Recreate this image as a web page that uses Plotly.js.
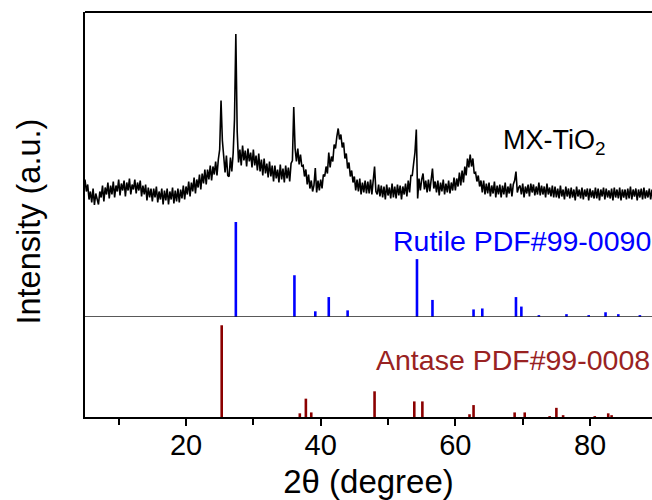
<!DOCTYPE html>
<html>
<head>
<meta charset="utf-8">
<script src="https://cdn.plot.ly/plotly-3.0.1.min.js"></script>
<style>html,body{margin:0;padding:0;background:#fff;}#chart{width:652px;height:500px;}</style>
</head>
<body>
<div id="chart"></div>
<script>
// ---- MX-TiO2 XRD scan (2θ grid start/step, intensities in a.u.) ----
const scanStart = 5.0;
const scanStep = 0.2;
const mxTiO2Intensity = [
  350, 230, 300, 150, 230, 120, 260, 95, 210, 140,    // 5.0 - 6.8
  100, 230, 170, 290, 130, 270, 200, 320, 160, 290,   // 7.0 - 8.8
  200, 330, 170, 290, 230, 350, 190, 310, 240, 340,   // 9.0 - 10.8
  180, 320, 240, 360, 200, 300, 250, 350, 210, 320,   // 11.0 - 12.8
  240, 340, 180, 290, 200, 300, 140, 270, 170, 260,   // 13.0 - 14.8
  130, 260, 170, 280, 120, 230, 150, 260, 100, 240,   // 15.0 - 16.8
  140, 260, 100, 230, 150, 270, 110, 240, 130, 260,   // 17.0 - 18.8
  120, 250, 160, 290, 150, 280, 200, 330, 180, 320,   // 19.0 - 20.8
  230, 370, 210, 350, 270, 400, 250, 410, 310, 450,   // 21.0 - 22.8
  300, 450, 350, 490, 340, 480, 400, 530, 390, 550,   // 23.0 - 24.8
  650, 1140, 740, 580, 420, 590, 390, 380, 570, 430,  // 25.0 - 26.8
  610, 950, 1805, 830, 520, 650, 490, 690, 540, 640,  // 27.0 - 28.8
  480, 660, 530, 620, 470, 650, 490, 590, 440, 610,   // 29.0 - 30.8
  430, 550, 390, 560, 410, 510, 370, 530, 380, 490,   // 31.0 - 32.8
  330, 490, 360, 450, 320, 500, 350, 460, 320, 490,   // 33.0 - 34.8
  360, 470, 330, 510, 540, 1075, 660, 530, 660, 500,  // 35.0 - 36.8
  600, 480, 490, 380, 450, 300, 400, 260, 340, 230,   // 37.0 - 38.8
  290, 465, 220, 340, 240, 350, 260, 400, 380, 480,   // 39.0 - 40.8
  410, 620, 470, 580, 530, 700, 660, 780, 860, 750,   // 41.0 - 42.8
  800, 670, 720, 560, 610, 460, 520, 380, 440, 320,   // 43.0 - 44.8
  380, 240, 350, 230, 360, 200, 320, 220, 340, 210,   // 45.0 - 46.8
  330, 210, 350, 200, 340, 480, 230, 200, 300, 180,   // 47.0 - 48.8
  290, 170, 280, 150, 300, 190, 270, 160, 310, 170,   // 49.0 - 50.8
  280, 160, 300, 190, 290, 150, 280, 200, 310, 180,   // 51.0 - 52.8
  340, 220, 390, 390, 510, 620, 850, 160, 360, 240,   // 53.0 - 54.8
  350, 410, 250, 340, 220, 350, 230, 360, 460, 260,   // 55.0 - 56.8
  330, 220, 340, 190, 320, 230, 350, 200, 310, 220,   // 57.0 - 58.8
  340, 210, 320, 240, 370, 240, 360, 280, 420, 290,   // 59.0 - 60.8
  440, 320, 480, 390, 560, 470, 600, 480, 560, 410,   // 61.0 - 62.8
  420, 330, 390, 280, 340, 220, 340, 200, 310, 210,   // 63.0 - 64.8
  320, 180, 290, 210, 330, 170, 290, 200, 300, 170,   // 65.0 - 66.8
  290, 200, 320, 170, 280, 210, 310, 180, 300, 340,   // 67.0 - 68.8
  430, 220, 270, 290, 200, 310, 170, 280, 210, 300,   // 69.0 - 70.8
  180, 310, 220, 300, 190, 280, 200, 320, 190, 290,   // 71.0 - 72.8
  200, 280, 170, 310, 200, 270, 180, 290, 170, 280,   // 73.0 - 74.8
  170, 260, 160, 290, 180, 250, 150, 280, 180, 260,   // 75.0 - 76.8
  160, 270, 170, 250, 140, 280, 180, 250, 160, 270,   // 77.0 - 78.8
  150, 250, 180, 260, 140, 260, 170, 240, 160, 270,   // 79.0 - 80.8
  160, 260, 140, 250, 180, 270, 150, 260, 170, 240,   // 81.0 - 82.8
  160, 260, 140, 270, 170, 250, 160, 270, 140, 250,   // 83.0 - 84.8
  170, 250, 150, 260, 160, 280, 150, 250, 180, 260,   // 85.0 - 86.8
  140, 250, 170, 260, 150, 270, 160, 240, 170, 260,   // 87.0 - 88.8
  150, 250                                            // 89.0 - 89.2
];

// ---- Rutile reference (PDF#99-0090): 2θ positions and relative intensities ----
const rutileTheta = [27.4, 36.1, 39.2, 41.2, 44.0, 54.3, 56.6, 62.7, 64.0, 69.0, 69.8, 72.4, 76.5, 79.8, 82.3, 84.2, 87.4];
const rutileIntensity = [100, 44, 6, 21, 7, 61, 18, 8, 9, 21, 11, 2, 3, 2, 5, 3, 2];

// ---- Anatase reference (PDF#99-0008): 2θ positions and relative intensities ----
const anataseTheta = [25.3, 36.9, 37.8, 38.6, 48.0, 53.9, 55.1, 62.1, 62.7, 68.8, 70.3, 74.0, 75.0, 76.0, 80.7, 82.7, 83.2];
const anataseIntensity = [100, 4, 20, 5, 28, 17, 17, 3, 13, 5, 5, 1, 10, 2, 1, 4, 2];

// tick / label text
const xTitle = '2θ (degree)';
const yTitle = 'Intensity (a.u.)';
const sampleLabel = 'MX-TiO<sub>2</sub>';
const rutileLabel = 'Rutile PDF#99-0090';
const anataseLabel = 'Antase PDF#99-0008';

// build scan axis
const scanTheta = mxTiO2Intensity.map((_, i) => +(scanStart + i * scanStep).toFixed(2));

// stick helper: vertical segment from 0 to intensity for each reflection
function sticks(thetas, ints) {
  const x = [], y = [];
  thetas.forEach((t, i) => { x.push(t, t, null); y.push(0, ints[i], null); });
  return {x, y};
}
const rs = sticks(rutileTheta, rutileIntensity);
const as = sticks(anataseTheta, anataseIntensity);

const FONT = 'Arial, "Liberation Sans", Helvetica, sans-serif';

const traces = [
  { x: scanTheta, y: mxTiO2Intensity, type: 'scatter', mode: 'lines',
    line: {color: '#000000', width: 1.6}, xaxis: 'x', yaxis: 'y', name: 'MX-TiO2' },
  { x: rs.x, y: rs.y, type: 'scatter', mode: 'lines',
    line: {color: '#0000ff', width: 2.6}, xaxis: 'x', yaxis: 'y2', name: 'Rutile', connectgaps: false },
  { x: as.x, y: as.y, type: 'scatter', mode: 'lines',
    line: {color: '#8b0000', width: 2.6}, xaxis: 'x', yaxis: 'y3', name: 'Anatase', connectgaps: false }
];

const layout = {
  width: 652, height: 500,
  margin: {l: 85, r: 0, t: 12, b: 83, pad: 0},
  paper_bgcolor: '#ffffff', plot_bgcolor: '#ffffff',
  showlegend: false,
  font: {family: FONT, color: '#000000'},
  xaxis: {
    range: [5, 89.2], domain: [0, 1], anchor: 'y',
    showline: true, linewidth: 2, linecolor: '#000000', mirror: false,
    showgrid: false, zeroline: false,
    ticks: 'outside', ticklen: 7, tickwidth: 2, tickcolor: '#000000',
    tick0: 0, dtick: 20, ticklabelstandoff: -6,
    tickfont: {size: 29, family: FONT, color: '#000000'},
    minor: {dtick: 10, ticks: 'outside', ticklen: 6, tickwidth: 2, tickcolor: '#000000', showgrid: false},
    title: {text: xTitle, font: {size: 33, family: FONT, color: '#000000'}, standoff: 11}
  },
  yaxis: {
    domain: [0, 1], range: [-2025, 2025],
    showline: true, linewidth: 2, linecolor: '#000000',
    showgrid: false, zeroline: false, ticks: '', showticklabels: false
  },
  yaxis2: {
    domain: [0.2469, 0.5], range: [0, 108], anchor: 'x',
    showline: false, showgrid: false, zeroline: false, ticks: '', showticklabels: false
  },
  yaxis3: {
    domain: [0, 0.2469], range: [0, 109], anchor: 'x',
    showline: false, showgrid: false, zeroline: false, ticks: '', showticklabels: false
  },
  shapes: [
    {type: 'line', xref: 'paper', yref: 'paper', x0: 0, x1: 1, y0: 1, y1: 1,
     line: {color: '#000000', width: 2}},
    {type: 'line', xref: 'paper', yref: 'y2', x0: 0, x1: 1, y0: 0, y1: 0,
     line: {color: '#222222', width: 1.6}}
  ],
  annotations: [
    {text: yTitle, xref: 'paper', yref: 'paper', x: -0.1005, y: 0.4827,
     xanchor: 'center', yanchor: 'middle', textangle: -90, showarrow: false,
     font: {size: 32.5, family: FONT, color: '#000000'}},
    {text: sampleLabel, xref: 'paper', yref: 'paper', x: 0.7337, y: 0.68,
     xanchor: 'left', yanchor: 'middle', showarrow: false,
     font: {size: 27, family: FONT, color: '#000000'}},
    {text: rutileLabel, xref: 'paper', yref: 'paper', x: 0.5397, y: 0.4356,
     xanchor: 'left', yanchor: 'middle', showarrow: false,
     font: {size: 28.5, family: FONT, color: '#0000ff'}},
    {text: anataseLabel, xref: 'paper', yref: 'paper', x: 0.5097, y: 0.1417,
     xanchor: 'left', yanchor: 'middle', showarrow: false,
     font: {size: 28.5, family: FONT, color: '#992222'}}
  ]
};

Plotly.newPlot('chart', traces, layout, {displayModeBar: false, staticPlot: true});
</script>
</body>
</html>
